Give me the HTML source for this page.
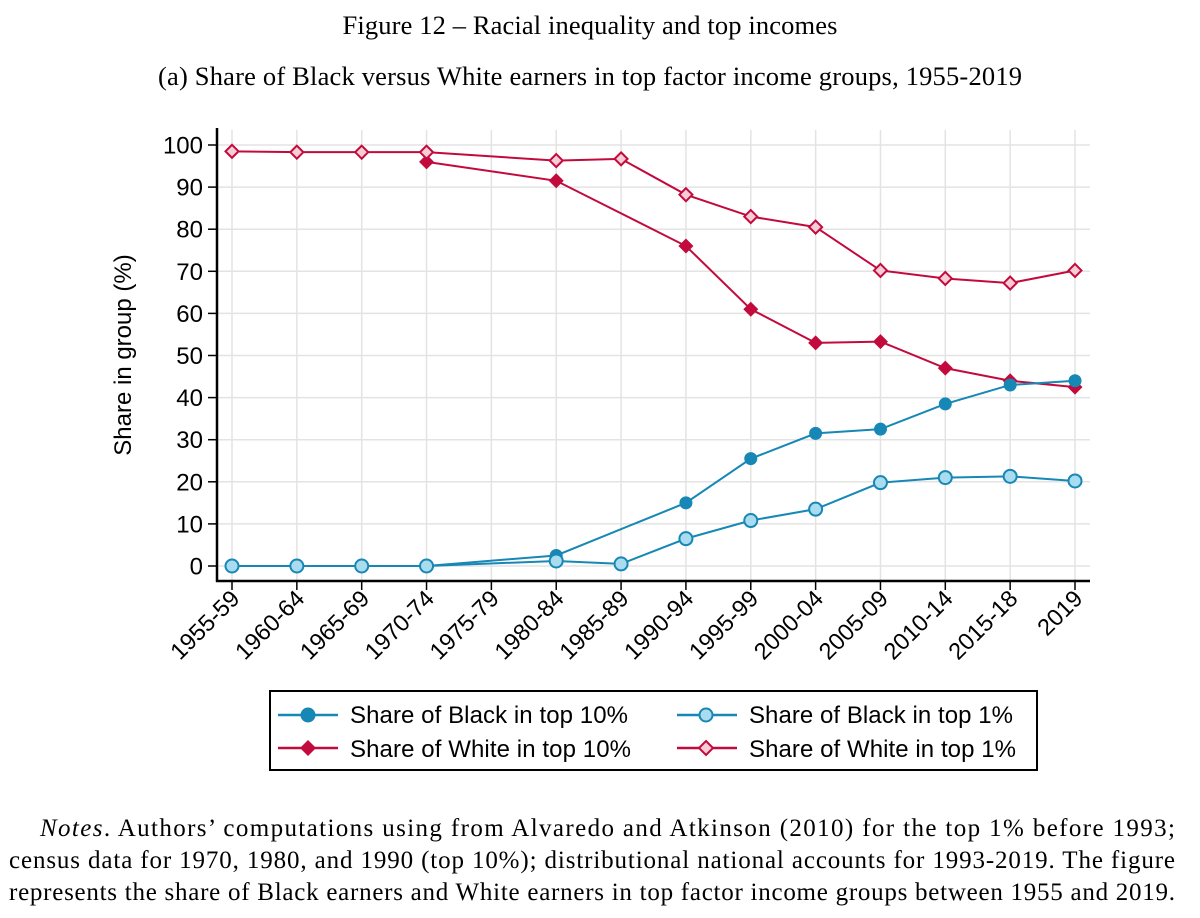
<!DOCTYPE html>
<html><head><meta charset="utf-8"><style>
body{margin:0;background:#fff;width:1200px;height:913px;overflow:hidden}
svg text{font-family:"Liberation Sans",sans-serif}
</style></head><body>
<svg id="chart" width="1200" height="913" xmlns="http://www.w3.org/2000/svg">
<text x="590" y="34" font-size="26.5" text-anchor="middle" textLength="495" style="font-family:'Liberation Serif',serif">Figure 12 – Racial inequality and top incomes</text>
<text x="590" y="85" font-size="26.5" text-anchor="middle" textLength="864" style="font-family:'Liberation Serif',serif">(a) Share of Black versus White earners in top factor income groups, 1955-2019</text>
<g id="grid"></g>
<g id="axes"></g>
<g id="series"></g>
<text transform="translate(131,355) rotate(-90)" font-size="24" text-anchor="middle">Share in group (%)</text>
<g>
<rect x="270" y="691" width="767" height="79" fill="#fff" stroke="#000" stroke-width="2"/>
<g><line x1="278" y1="715" x2="338" y2="715" stroke="#1787b6" stroke-width="2.5"/><circle cx="308" cy="715" r="7.5" fill="#1787b6"/><text x="350" y="723" font-size="24" textLength="278">Share of Black in top 10%</text></g>
<g><line x1="278" y1="748" x2="338" y2="748" stroke="#c30a3c" stroke-width="2.5"/><path d="M308 740 L316 748 L308 756 L300 748Z" fill="#c30a3c"/><text x="350" y="757" font-size="24" textLength="281">Share of White in top 10%</text></g>
<g><line x1="677" y1="715" x2="737" y2="715" stroke="#1787b6" stroke-width="2.5"/><circle cx="706" cy="715" r="6.5" fill="#a9dcef" stroke="#1787b6" stroke-width="2"/><text x="749" y="723" font-size="24" textLength="264">Share of Black in top 1%</text></g>
<g><line x1="677" y1="748" x2="737" y2="748" stroke="#c30a3c" stroke-width="2.5"/><path d="M706 741 L713 748 L706 755 L699 748Z" fill="#f6ccd6" stroke="#c30a3c" stroke-width="2"/><text x="749" y="757" font-size="24" textLength="267">Share of White in top 1%</text></g>
</g>
<g>
<text x="40" y="836" font-size="25" textLength="1135" style="font-family:'Liberation Serif',serif"><tspan font-style="italic">Notes</tspan>.  Authors’ computations using from Alvaredo and Atkinson (2010) for the top 1% before 1993;</text>
<text x="9" y="868" font-size="25" textLength="1166" style="font-family:'Liberation Serif',serif">census data for 1970, 1980, and 1990 (top 10%); distributional national accounts for 1993-2019. The figure</text>
<text x="9" y="900" font-size="25" textLength="1166" style="font-family:'Liberation Serif',serif">represents the share of Black earners and White earners in top factor income groups between 1955 and 2019.</text>
</g>
</svg>
<script>
const categories=["1955-59","1960-64","1965-69","1970-74","1975-79","1980-84","1985-89","1990-94","1995-99","2000-04","2005-09","2010-14","2015-18","2019"];
const yTicks=[0,10,20,30,40,50,60,70,80,90,100];
const blackTop10=[null,null,null,0,null,2.5,null,15,25.5,31.5,32.5,38.5,43,44];
const whiteTop10=[null,null,null,96,null,91.5,null,76,61,53,53.3,47,44,42.5];
const blackTop1=[0,0,0,0,null,1.2,0.5,6.5,10.8,13.5,19.8,21,21.3,20.2];
const whiteTop1=[98.5,98.3,98.3,98.3,null,96.3,96.7,88.2,83,80.5,70.2,68.3,67.2,70.2];
const NS="http://www.w3.org/2000/svg";
const X0=232,DX=(1075-232)/13,Y0=566,Y100=145;
const xs=i=>X0+i*DX, ys=v=>Y0-(Y0-Y100)*v/100;
function mk(t,a,p){const e=document.createElementNS(NS,t);for(const k in a)e.setAttribute(k,a[k]);p.appendChild(e);return e;}
const grid=document.getElementById('grid'),axes=document.getElementById('axes'),ser=document.getElementById('series');
yTicks.forEach(v=>{const l=mk('line',{x1:217,x2:1090,y1:ys(v),y2:ys(v),stroke:'#e3e3e3','stroke-width':1.5},grid);


mk('line',{x1:208,x2:217,y1:ys(v),y2:ys(v),stroke:'#000','stroke-width':1.5},axes);
const t=mk('text',{x:203,y:ys(v)+8.5,'font-size':24,'text-anchor':'end'},axes);t.textContent=v;

});
categories.forEach((c,i)=>{const l=mk('line',{x1:xs(i),x2:xs(i),y1:130,y2:581,stroke:'#e3e3e3','stroke-width':1.5},grid);


mk('line',{x1:xs(i),x2:xs(i),y1:581,y2:590,stroke:'#000','stroke-width':1.5},axes);
const t=mk('text',{x:0,y:0,'font-size':23.5,'text-anchor':'end',transform:`translate(${xs(i)+9},${600}) rotate(-45)`},axes);t.textContent=c;

});
mk('line',{x1:217,x2:217,y1:128,y2:582,stroke:'#000','stroke-width':2.5},axes);
mk('line',{x1:216,x2:1090,y1:581,y2:581,stroke:'#000','stroke-width':2.5},axes);
function series(data,color,fill,shape,name){
const g=mk('g',{},ser);


const pts=data.map((v,i)=>v==null?null:[xs(i),ys(v)]).filter(p=>p);
mk('polyline',{points:pts.map(p=>p.join(',')).join(' '),fill:'none',stroke:color,'stroke-width':2},g);
pts.forEach(([x,y])=>{let m;
if(shape==='circle')m=mk('circle',{cx:x,cy:y,r:6.5,fill:fill||color,stroke:color,'stroke-width':fill?2:0},g);
else{const r=fill?6.5:7.5;m=mk('path',{d:`M${x} ${y-r}L${x+r} ${y}L${x} ${y+r}L${x-r} ${y}Z`,fill:fill||color,stroke:color,'stroke-width':fill?2:0},g);}

});}
series(whiteTop10,'#c30a3c',null,'diamond','white-top10-series');
series(whiteTop1,'#c30a3c','#f6ccd6','diamond','white-top1-series');
series(blackTop10,'#1787b6',null,'circle','black-top10-series');
series(blackTop1,'#1787b6','#a9dcef','circle','black-top1-series');
</script>
</body></html>
